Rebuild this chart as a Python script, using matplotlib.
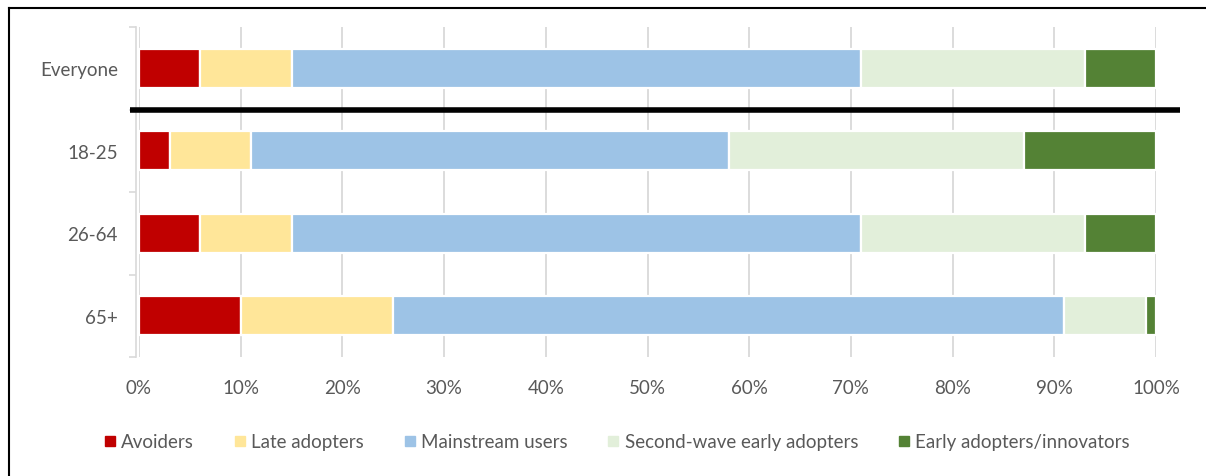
import numpy as np
import matplotlib.pyplot as plt
from matplotlib.lines import Line2D

plt.rcParams['font.family'] = ['Lato', 'DejaVu Sans']

groups = ["Everyone", "18-25", "26-64", "65+"]
series = ["Avoiders", "Late adopters", "Mainstream users",
          "Second-wave early adopters", "Early adopters/innovators"]
avoiders = [6, 3, 6, 10]
late = [9, 8, 9, 15]
mainstream = [56, 47, 56, 66]
second_wave = [22, 29, 22, 8]
early = [7, 13, 7, 1]
colors = ["#C00000", "#FFE699", "#9DC3E6", "#E2EFDA", "#548235"]
xticks = [0, 10, 20, 30, 40, 50, 60, 70, 80, 90, 100]

text_color = "#595959"
grid_color = "#D9D9D9"

fig = plt.figure(figsize=(12.06, 4.77), dpi=100)
ax = fig.add_axes([139 / 1206, 1 - 358 / 477, (1156 - 139) / 1206, 330 / 477])

y = np.arange(len(groups))
left = np.zeros(len(groups))
for name, vals, c in zip(series, [avoiders, late, mainstream, second_wave, early], colors):
    ax.barh(y, vals, left=left, height=0.47, color=c, edgecolor="white",
            linewidth=1.6, zorder=3, label=name)
    left += np.array(vals)

ax.set_ylim(3.5, -0.5)
ax.set_xlim(0, 100)
ax.set_xticks(xticks)
ax.set_xticklabels([f"{t}%" for t in xticks])
ax.set_yticks(y)
ax.set_yticklabels(groups)
ax.set_yticks([-0.5, 0.5, 1.5, 2.5, 3.5], minor=True)
ax.tick_params(axis="y", which="major", length=0, pad=13, labelsize=13.5,
               labelcolor=text_color)
ax.tick_params(axis="y", which="minor", length=5, color=grid_color, width=1.2)
ax.tick_params(axis="x", length=0, pad=16, labelsize=13.5, labelcolor=text_color)
ax.xaxis.grid(True, color=grid_color, linewidth=1.3, zorder=0)
for s in ["top", "right", "bottom"]:
    ax.spines[s].set_visible(False)
ax.spines["left"].set_color(grid_color)
ax.spines["left"].set_linewidth(1.2)
ax.spines["left"].set_position(("data", -0.3))

# thick separator below "Everyone"
ax.plot([-0.9, 102.4], [0.5, 0.5], color="black", linewidth=4, clip_on=False,
        solid_capstyle="butt", zorder=5)

handles = [Line2D([], [], marker="s", linestyle="none", markersize=7,
                  markerfacecolor=c, markeredgecolor=c) for c in colors]
leg = fig.legend(handles, series, loc="center", bbox_to_anchor=(0.51, 1 - 443 / 477),
                 ncol=5, frameon=False, fontsize=13.5, handletextpad=0.1,
                 columnspacing=1.95, handlelength=1.0)
for t in leg.get_texts():
    t.set_color(text_color)

# outer frame (top and left edges)
fig.add_artist(Line2D([9 / 1206, 1], [1 - 9 / 477, 1 - 9 / 477], color="black", linewidth=1.5))
fig.add_artist(Line2D([9 / 1206, 9 / 1206], [0, 1 - 9 / 477], color="black", linewidth=1.5))

fig.savefig("out.png", dpi=100)
